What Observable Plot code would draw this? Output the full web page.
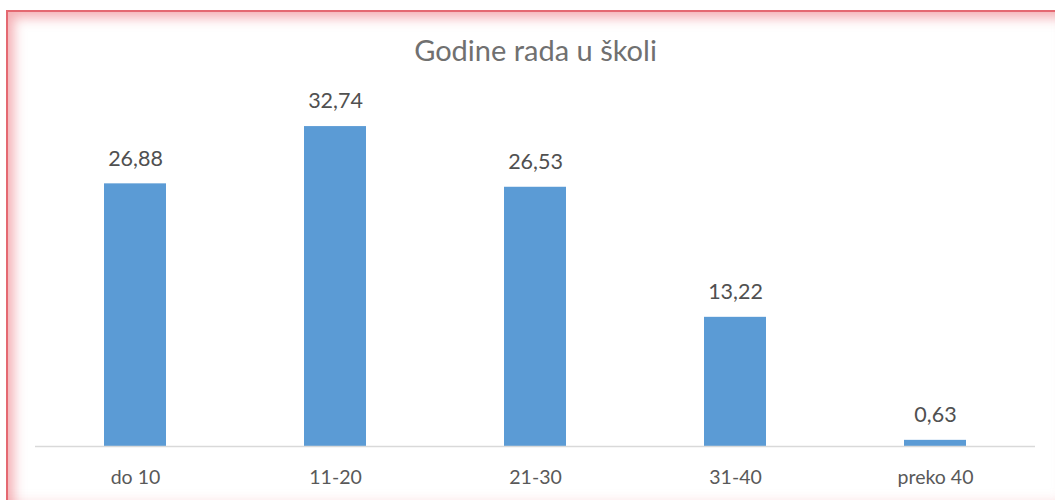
<!DOCTYPE html>
<html>
<head>
<meta charset="utf-8">
<script src="https://cdn.jsdelivr.net/npm/d3@7"></script>
<script src="https://cdn.jsdelivr.net/npm/@observablehq/plot@0.6"></script>
<style>
  html, body { margin: 0; padding: 0; background: #fff; }
  #wrap { position: relative; width: 1055px; height: 500px; overflow: hidden; background: #fff; font-family: Lato, "Open Sans", sans-serif; }
  #frame { position: absolute; left: 6px; top: 10px; width: 1060px; height: 500px;
    box-shadow: inset 2px 2px 0 rgba(225,90,100,0.85), inset 8px 8px 12px rgba(235,100,110,0.5), inset -8px -14px 12px -6px rgba(240,150,155,0.35);
    pointer-events: none; }
  #title { position: absolute; left: 8px; top: 32px; width: 1055px; text-align: center; font-size: 29px; line-height: 36px; color: #707070; }
  #chart { position: absolute; left: 0; top: 80px; }
</style>
</head>
<body>
<div id="wrap">
  <div id="title">Godine rada u školi</div>
  <div id="chart"></div>
  <div id="frame"></div>
</div>
<script>
const categories = ["do 10", "11-20", "21-30", "31-40", "preko 40"];
const values = [26.88, 32.74, 26.53, 13.22, 0.63];
const labels = ["26,88", "32,74", "26,53", "13,22", "0,63"];

const data = categories.map((c, i) => ({cat: c, value: values[i], label: labels[i]}));

const plot = Plot.plot({
  width: 1055,
  height: 420,
  marginLeft: 35,
  marginRight: 20,
  marginTop: 24,
  marginBottom: 54,
  style: {fontFamily: "Lato, 'Open Sans', sans-serif", background: "transparent"},
  x: {domain: categories, paddingInner: 0.69, paddingOuter: 0.345, label: null},
  y: {domain: [0, 35], axis: null},
  marks: [
    Plot.barY(data, {x: "cat", y: "value", fill: "#5b9bd5"}),
    Plot.ruleY([0], {stroke: "#d9d9d9", strokeWidth: 1.5}),
    Plot.text(data, {x: "cat", y: "value", text: "label", dy: -25, fontSize: 21.5, fill: "#505050"}),
    Plot.axisX({tickSize: 0, tickPadding: 24, fontSize: 19.5, color: "#595959", label: null})
  ]
});
document.getElementById("chart").appendChild(plot);
</script>
</body>
</html>
